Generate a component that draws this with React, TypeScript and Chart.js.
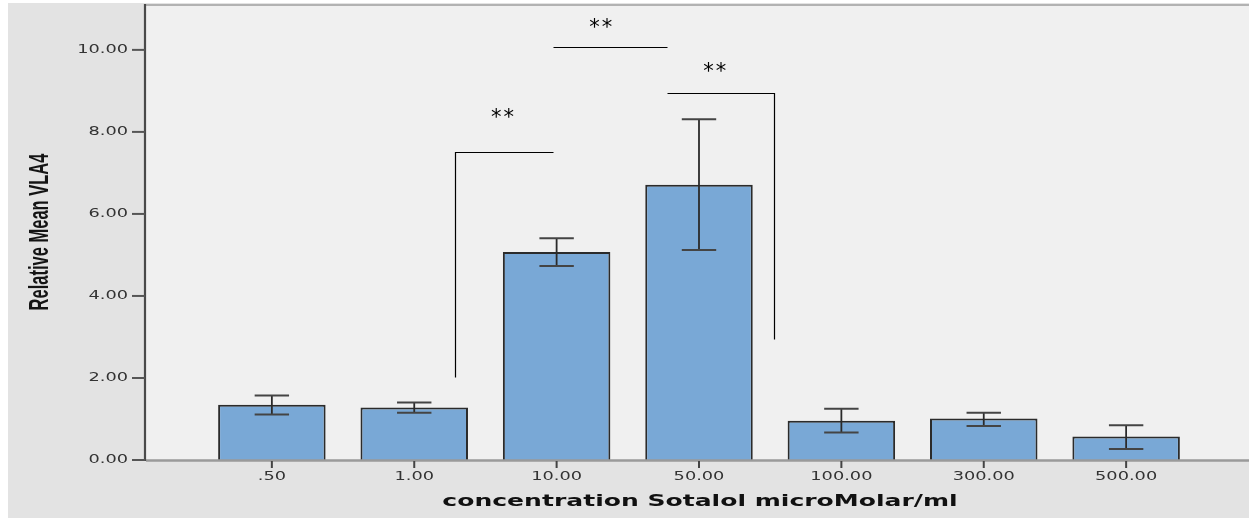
import React, { useEffect, useRef } from "react";
import { Chart, registerables } from "chart.js";

Chart.register(...registerables);

const xLabels = [".50", "1.00", "10.00", "50.00", "100.00", "300.00", "500.00"];
const means = [1.35, 1.28, 5.07, 6.71, 0.96, 1.01, 0.57];
const errLow = [1.11, 1.15, 4.73, 5.12, 0.67, 0.83, 0.27];
const errHigh = [1.57, 1.4, 5.41, 8.31, 1.25, 1.15, 0.85];
const yTicks = [0, 2, 4, 6, 8, 10];
const yTitle = "Relative Mean VLA4";
const xTitle = "concentration Sotalol microMolar/ml";

// significance brackets in data coordinates (x = category index, y = value)
const bracketA = [[1.288, 2.03], [1.288, 7.5], [1.975, 7.5]];
const bracketB = [[1.975, 10.08], [2.775, 10.08]];
const bracketC = [[2.775, 8.96], [3.53, 8.96], [3.53, 2.95]];
const bracketPaths = [bracketA, bracketB, bracketC];
const starX = [1.62, 2.31, 3.11];
const starY = [8.39, 10.59, 9.52];
const starText = ["**", "**", "**"];

function stretchText(ctx: CanvasRenderingContext2D, text: string, x: number, y: number, sx: number, align: CanvasTextAlign) {
  ctx.save();
  ctx.translate(x, y);
  ctx.scale(sx, 1);
  ctx.textAlign = align;
  ctx.textBaseline = "middle";
  ctx.fillText(text, 0, 0);
  ctx.restore();
}

const decor = {
  id: "decor",
  beforeDraw(chart: any) {
    const { ctx, chartArea } = chart;
    ctx.save();
    ctx.fillStyle = "#ffffff";
    ctx.fillRect(0, 0, chart.width, chart.height);
    ctx.fillStyle = "#e3e3e3";
    ctx.fillRect(8, 3, chart.width - 8, 515);
    ctx.fillStyle = "#f0f0f0";
    ctx.fillRect(chartArea.left, chartArea.top, chartArea.right - chartArea.left, chartArea.bottom - chartArea.top);
    ctx.restore();
  },
  afterDatasetsDraw(chart: any) {
    const { ctx, chartArea } = chart;
    const xs = chart.scales.x;
    const ys = chart.scales.y;
    const meta = chart.getDatasetMeta(0);
    ctx.save();

    // error bars
    meta.data.forEach((bar: any, i: number) => {
      const cx = bar.x;
      const half = bar.width * 0.16;
      const yl = ys.getPixelForValue(errLow[i]);
      const yh = ys.getPixelForValue(errHigh[i]);
      ctx.strokeStyle = "#2a2a2a";
      ctx.lineWidth = 1.8;
      ctx.beginPath();
      ctx.moveTo(cx, yl);
      ctx.lineTo(cx, yh);
      ctx.stroke();
      ctx.strokeStyle = "#444444";
      ctx.lineWidth = 2;
      ctx.beginPath();
      ctx.moveTo(cx - half, yh);
      ctx.lineTo(cx + half, yh);
      ctx.moveTo(cx - half, yl);
      ctx.lineTo(cx + half, yl);
      ctx.stroke();
    });

    // top border
    ctx.strokeStyle = "#b2b2b2";
    ctx.lineWidth = 2;
    ctx.beginPath();
    ctx.moveTo(chartArea.left, chartArea.top - 1);
    ctx.lineTo(chartArea.right, chartArea.top - 1);
    ctx.stroke();

    // bottom axis line
    ctx.strokeStyle = "#9a9a9a";
    ctx.lineWidth = 2.5;
    ctx.beginPath();
    ctx.moveTo(chartArea.left, chartArea.bottom + 0.5);
    ctx.lineTo(chartArea.right, chartArea.bottom + 0.5);
    ctx.stroke();

    // left axis line
    ctx.strokeStyle = "#4a4a4a";
    ctx.lineWidth = 2.2;
    ctx.beginPath();
    ctx.moveTo(chartArea.left - 1, chartArea.top - 2);
    ctx.lineTo(chartArea.left - 1, chartArea.bottom + 1);
    ctx.stroke();

    // y ticks + labels
    ctx.font = "12.5px 'DejaVu Sans'";
    ys.ticks.forEach((t: any) => {
      const py = ys.getPixelForValue(t.value);
      ctx.strokeStyle = "#555555";
      ctx.lineWidth = 2;
      ctx.beginPath();
      ctx.moveTo(chartArea.left - 14, py);
      ctx.lineTo(chartArea.left - 1, py);
      ctx.stroke();
      ctx.fillStyle = "#333333";
      stretchText(ctx, t.value.toFixed(2), chartArea.left - 18, py, 1.42, "right");
    });

    // x ticks + labels
    xs.ticks.forEach((t: any) => {
      const px = xs.getPixelForValue(t.value);
      ctx.strokeStyle = "#444444";
      ctx.lineWidth = 2;
      ctx.beginPath();
      ctx.moveTo(px, chartArea.bottom + 1);
      ctx.lineTo(px, chartArea.bottom + 8);
      ctx.stroke();
      ctx.fillStyle = "#333333";
      stretchText(ctx, xLabels[t.value], px, chartArea.bottom + 17, 1.42, "center");
    });

    // x title
    ctx.font = "bold 15px 'DejaVu Sans'";
    ctx.fillStyle = "#111111";
    stretchText(ctx, xTitle, 700, chartArea.bottom + 42, 1.67, "center");

    // y title (rotated, condensed)
    ctx.save();
    ctx.translate(40, (chartArea.top + chartArea.bottom) / 2 - 1);
    ctx.scale(1.65, 1);
    ctx.rotate(-Math.PI / 2);
    ctx.font = "bold 16.5px 'Liberation Sans'";
    ctx.fillStyle = "#141414";
    ctx.textAlign = "center";
    ctx.textBaseline = "middle";
    ctx.fillText(yTitle, 0, 0);
    ctx.restore();

    // significance brackets
    ctx.strokeStyle = "#000000";
    ctx.lineWidth = 1.2;
    bracketPaths.forEach((path) => {
      ctx.beginPath();
      path.forEach(([vx, vy], k) => {
        const px = Math.round(xs.getPixelForValue(vx)) + 0.5;
        const py = Math.round(ys.getPixelForValue(vy)) + 0.5;
        if (k === 0) ctx.moveTo(px, py);
        else ctx.lineTo(px, py);
      });
      ctx.stroke();
    });
    ctx.font = "21px 'DejaVu Sans'";
    ctx.fillStyle = "#000000";
    starText.forEach((s, i) => {
      const px = xs.getPixelForValue(starX[i]);
      const py = ys.getPixelForValue(starY[i]);
      ctx.save();
      ctx.textAlign = "center";
      ctx.textBaseline = "middle";
      (ctx as any).letterSpacing = "2px";
      ctx.fillText(s, px + 1, py + 3);
      ctx.restore();
    });

    ctx.restore();
  },
};

export default function App() {
  const ref = useRef<HTMLCanvasElement>(null);
  useEffect(() => {
    document.body.style.margin = "0";
    const canvas = ref.current;
    if (!canvas) return;
    const chart = new Chart(canvas, {
      type: "bar",
      data: {
        labels: xLabels,
        datasets: [
          {
            data: means.map((v, i) => ({ x: i, y: v })) as any,
            backgroundColor: "#79a8d6",
            borderColor: "#2b2b2b",
            borderWidth: 2,
            categoryPercentage: 1,
            barPercentage: 0.755,
          },
        ],
      },
      options: {
        responsive: false,
        animation: false,
        events: [],
        layout: { padding: { left: 146, top: 6, right: 0, bottom: 60 } },
        plugins: { legend: { display: false }, tooltip: { enabled: false } },
        scales: {
          x: {
            type: "linear",
            display: false,
            offset: false,
            min: -0.884,
            max: 6.863,
            afterBuildTicks: (axis: any) => {
              axis.ticks = xLabels.map((_, i) => ({ value: i }));
            },
          },
          y: {
            type: "linear",
            display: false,
            min: 0,
            max: 11.07,
            afterBuildTicks: (axis: any) => {
              axis.ticks = yTicks.map((v) => ({ value: v }));
            },
          },
        },
      },
      plugins: [decor],
    });
    return () => chart.destroy();
  }, []);
  return (
    <div style={{ width: 1249, height: 520 }}>
      <canvas ref={ref} width={1249} height={520} style={{ display: "block" }} />
    </div>
  );
}
